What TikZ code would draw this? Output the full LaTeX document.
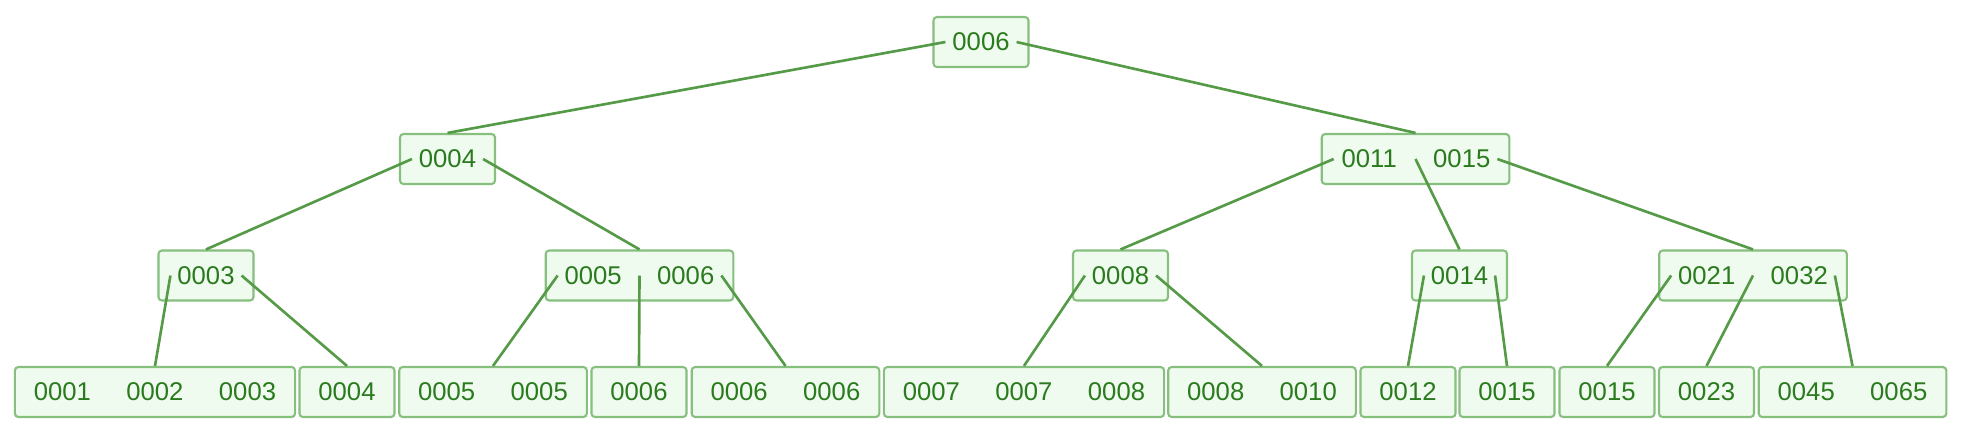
\documentclass[tikz,border=0pt]{standalone}
\usepackage{fontspec}
\setmainfont{Liberation Sans}
\definecolor{boxline}{HTML}{86BF7E}
\definecolor{boxfill}{HTML}{F0FBEF}
\definecolor{keytext}{HTML}{2A7A1E}
\definecolor{linkgreen}{HTML}{559A46}
\newcommand{\kslot}[1]{\makebox[0.925cm]{#1}}

\begin{document}
\begin{tikzpicture}[x=0.01cm, y=-0.01cm,
        bnode/.style={draw=boxline, fill=boxfill, rounded corners=1pt, line width=0.6pt,
            minimum height=0.5cm, inner xsep=0.0125cm, inner ysep=0pt,
            text=keytext, font=\fontsize{7.3}{8}\selectfont},
        link/.style={draw=linkgreen, line width=0.75pt}]
        \useasboundingbox (0, 0) rectangle (1966, 430);

        \node[bnode] at (981, 42)(root){\kslot{0006}};

        \node[bnode] at (447.5, 159)(n4){\kslot{0004}};
        \node[bnode] at (1415.5, 159)(n11){\kslot{0011}\kslot{0015}};

        \node[bnode] at (206, 275.5)(n3){\kslot{0003}};
        \node[bnode] at (639.5, 275.5)(n5){\kslot{0005}\kslot{0006}};
        \node[bnode] at (1120.5, 275.5)(n8){\kslot{0008}};
        \node[bnode] at (1459.5, 275.5)(n14){\kslot{0014}};
        \node[bnode] at (1753, 275.5)(n21){\kslot{0021}\kslot{0032}};

        \node[bnode] at (155, 392)(l1){\kslot{0001}\kslot{0002}\kslot{0003}};
        \node[bnode] at (347, 392)(l2){\kslot{0004}};
        \node[bnode] at (493, 392)(l3){\kslot{0005}\kslot{0005}};
        \node[bnode] at (639, 392)(l4){\kslot{0006}};
        \node[bnode] at (785.5, 392)(l5){\kslot{0006}\kslot{0006}};
        \node[bnode] at (1024, 392)(l6){\kslot{0007}\kslot{0007}\kslot{0008}};
        \node[bnode] at (1262, 392)(l7){\kslot{0008}\kslot{0010}};
        \node[bnode] at (1408, 392)(l8){\kslot{0012}};
        \node[bnode] at (1507, 392)(l9){\kslot{0015}};
        \node[bnode] at (1607, 392)(l10){\kslot{0015}};
        \node[bnode] at (1706.5, 392)(l11){\kslot{0023}};
        \node[bnode] at (1852.5, 392)(l12){\kslot{0045}\kslot{0065}};

        \path[link]
        ([xshift=0.13cm]root.west)edge(n4.north)
        ([xshift=-0.13cm]root.east)edge(n11.north)
        ([xshift=0.13cm]n4.west)edge(n3.north)
        ([xshift=-0.13cm]n4.east)edge(n5.north)
        ([xshift=0.13cm]n11.west)edge(n8.north)
        (n11.center)edge(n14.north)
        ([xshift=-0.13cm]n11.east)edge(n21.north)
        ([xshift=0.13cm]n3.west)edge(l1.north)
        ([xshift=-0.13cm]n3.east)edge(l2.north)
        ([xshift=0.13cm]n5.west)edge(l3.north)
        (n5.center)edge(l4.north)
        ([xshift=-0.13cm]n5.east)edge(l5.north)
        ([xshift=0.13cm]n8.west)edge(l6.north)
        ([xshift=-0.13cm]n8.east)edge(l7.north)
        ([xshift=0.13cm]n14.west)edge(l8.north)
        ([xshift=-0.13cm]n14.east)edge(l9.north)
        ([xshift=0.13cm]n21.west)edge(l10.north)
        (n21.center)edge(l11.north)
        ([xshift=-0.13cm]n21.east)edge(l12.north)
        ;
    \end{tikzpicture}
\end{document}
